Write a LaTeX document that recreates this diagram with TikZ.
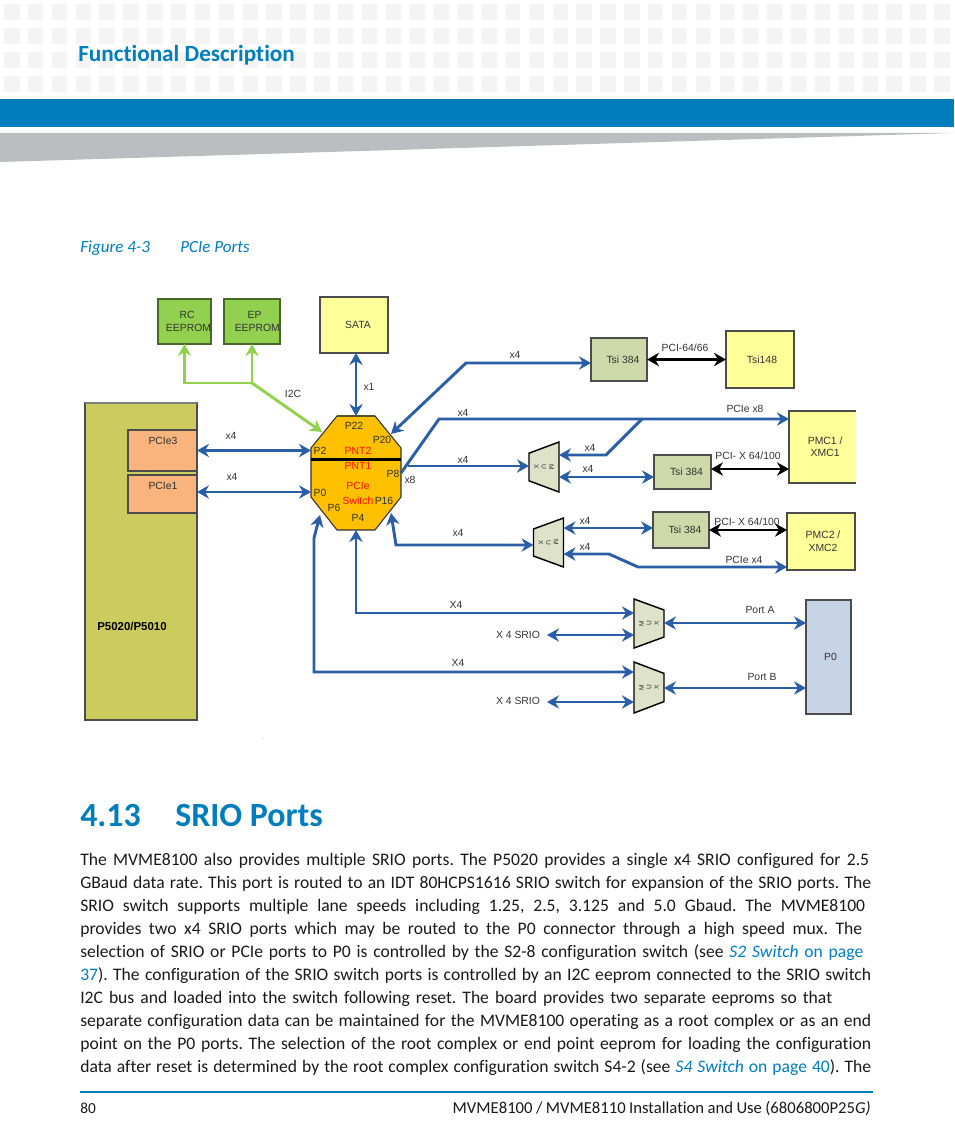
\documentclass[tikz,border=0pt]{standalone}
\usepackage{xcolor}
\usepackage{fontspec}
\setmainfont{Carlito}[RawFeature=-liga]
\newfontfamily\diagfont{Liberation Sans}
\usetikzlibrary{shapes,arrows,arrows.meta,positioning,calc}
\definecolor{artesynblue}{HTML}{007DBD}
\definecolor{headgray}{HTML}{BCBDC0}
\definecolor{gridgray}{HTML}{F4F4F4}
\definecolor{linkblue}{HTML}{2A5FA8}
\definecolor{cpuolive}{HTML}{CCCC5E}
\definecolor{pcieorange}{HTML}{F8B47C}
\definecolor{romgreen}{HTML}{92D050}
\definecolor{chipyellow}{HTML}{FFFF99}
\definecolor{bridgegreen}{HTML}{CDD9A8}
\definecolor{muxgray}{HTML}{DDE2C8}
\definecolor{switchorange}{HTML}{FFC000}
\definecolor{connblue}{HTML}{C6D4E6}
\newcommand{\bodyline}[4]{\node (#1) [bodytext] at (80,#2) {\makebox[\dimexpr#3pt*3/4\relax][s]{#4}};}
\newcommand{\lnk}[1]{\textcolor{artesynblue}{#1}}
\tikzset{pxbox/.style 2 args={minimum width=#1*0.75pt,minimum height=#2*0.75pt}}

\begin{document}
\frenchspacing
\begin{tikzpicture}[x=0.75pt,y=-0.75pt,>={Stealth[length=9pt,width=10pt]}]
    % Define styles
    \tikzstyle{bodytext} = [anchor=base west, inner sep=0pt, font=\fontsize{13.2}{15}\selectfont, text=black!90]
    \tikzstyle{txt} = [inner sep=0pt, font=\diagfont\fontsize{7.8}{9.4}\selectfont, text=black!80, align=center]
    \tikzstyle{chip} = [rectangle, inner sep=0pt, outer sep=0pt, align=center, font=\diagfont\fontsize{7.8}{9.4}\selectfont, text=black!80]
    \tikzstyle{rom} = [chip, draw=romgreen!50!black, fill=romgreen, line width=1pt]
    \tikzstyle{yellowchip} = [chip, draw=black!70, fill=chipyellow, line width=0.8pt]
    \tikzstyle{bridge} = [chip, draw=black!70, fill=bridgegreen, line width=0.8pt]
    \tikzstyle{mux} = [trapezium, trapezium stretches, trapezium left angle=68, trapezium right angle=68, inner sep=4pt, outer sep=0pt, draw=black, fill=muxgray, line width=1.1pt, minimum width=50*0.75pt, minimum height=30*0.75pt]
    \tikzstyle{muxtext} = [inner sep=0pt, align=center, font=\diagfont\fontsize{5}{5.6}\selectfont, text=black!80]
    \tikzstyle{link} = [line width=2.2pt, color=linkblue]
    \tikzstyle{pcilink} = [line width=1.6pt, color=black]
    \tikzstyle{i2clink} = [line width=2.2pt, color=romgreen]
    \tikzstyle{redtxt} = [txt, text=red!90!orange]

    \useasboundingbox (0,0) rectangle (954,1145);

    % Page head
    \foreach \r in {4,28,52,76}
        \foreach \c in {0,...,39}
            \fill[gridgray] ({4+23.85*\c},\r) rectangle ++(15.5,16);
    \fill[artesynblue] (0,99) rectangle (954,127);
    \fill[headgray] (0,133) -- (954,133) -- (0,162) -- cycle;
    \node (pagehead) [anchor=base west, inner sep=0pt, font=\bfseries\fontsize{17.4}{19}\selectfont, text=artesynblue] at (78,62) {Functional Description};
    \node (figno) [anchor=base west, inner sep=0pt, font=\itshape\fontsize{12.8}{15}\selectfont, text=artesynblue] at (80,252) {Figure 4-3};
    \node (figname) [anchor=base west, inner sep=0pt, font=\itshape\fontsize{12.8}{15}\selectfont, text=artesynblue] at (180,252) {PCIe Ports};

    % Processor
    \node (cpu) [chip, pxbox={112}{317}, fill=cpuolive, draw=black!70, line width=0.8pt] at (141,561.5) {};
    \draw[line width=1.5pt, black!50] (cpu.north west) -- (cpu.north east);
    \node (pcieC) [chip, pxbox={69}{41}, fill=pcieorange, draw=black!70, line width=0.8pt] at (162.5,450.5) {};
    \node (pcieA) [chip, pxbox={69}{38}, fill=pcieorange, draw=black!70, line width=0.8pt] at (162.5,494) {};
    \node (pcieCtxt) [txt] at (163,441) {PCIe3};
    \node (pcieAtxt) [txt] at (163,486) {PCIe1};
    \node (cpuName) [txt, font=\diagfont\bfseries\fontsize{8.6}{10}\selectfont, text=black] at (132,626) {P5020/P5010};

    % EEPROMs and SATA
    \node (rcRom) [rom, pxbox={53}{45}] at (184.5,321.5) {\hspace*{4pt}RC\\\hspace*{6pt}EEPROM};
    \node (epRom) [rom, pxbox={54}{45}] at (252,321.5) {\hspace*{4pt}EP\\\hspace*{8pt}EEPROM};
    \node (sata) [yellowchip, pxbox={68}{56}] at (354,325) {\hspace*{6pt}SATA};

    % PCIe switch
    \node (sw) [rectangle, inner sep=0pt, outer sep=0pt, pxbox={90}{114}] at (356,473) {};
    \draw[draw=black!80, fill=switchorange, line width=0.8pt] ($(sw.north west)+(26,0)$) -- ($(sw.north east)+(-26,0)$) -- ($(sw.north east)+(0,32)$) -- ($(sw.south east)+(0,-33)$) -- ($(sw.south east)+(-26,0)$) -- ($(sw.south west)+(26,0)$) -- ($(sw.south west)+(0,-33)$) -- ($(sw.north west)+(0,32)$) -- cycle;
    \coordinate (barY) at (356,459.5);
    \draw[line width=2.7pt, black] (sw.west |- barY) -- (sw.east |- barY);
    \draw[line width=1.5pt, black!50!olive] ($(sw.north)+(-19,0)$) -- ($(sw.north)+(19,0)$);
    \node (p22) [txt] at (354,426) {P22};
    \node (p20) [txt] at (382,440) {P20};
    \node (p2) [txt] at (320,451) {P2};
    \node (p0) [txt] at (320,493) {P0};
    \node (p6) [txt] at (334,508) {P6};
    \node (p4) [txt] at (358,518) {P4};
    \node (p16) [txt] at (384,501) {P16};
    \node (p8) [txt] at (393,474) {P8};
    \node (pnt2) [redtxt] at (358,451) {PNT2};
    \node (pnt1) [redtxt] at (358,466) {PNT1};
    \node (swName) [redtxt] at (358,486) {PCIe};
    \node (swName2) [redtxt] at (358,501) {Switch};

    % Bridges and mezzanine sites
    \node (tsiA) [bridge, pxbox={56}{43}] at (619,359.5) {\hspace*{6pt}Tsi 384};
    \node (tsb) [yellowchip, pxbox={68}{57}] at (760,359.5) {\hspace*{3pt}Tsi148};
    \node (tsiB) [bridge, pxbox={57}{34}] at (682.5,472) {\hspace*{6pt}Tsi 384};
    \node (tsiC) [bridge, pxbox={56}{36}] at (681,530) {\hspace*{6pt}Tsi 384};
    \node (pmcA) [chip, pxbox={67}{72}, fill=chipyellow] at (822.5,447) {\hspace*{4pt}PMC1 /\\\hspace*{4pt}XMC1};
    \draw[black!70, line width=0.8pt] (pmcA.north east) -- (pmcA.north west) -- (pmcA.south west) -- (pmcA.south east);
    \node (pmcB) [yellowchip, pxbox={68}{57}] at (821,541.5) {\hspace*{3pt}PMC2 /\\\hspace*{3pt}XMC2};
    \node (conn) [chip, pxbox={45}{114}, fill=connblue, draw=black!70, line width=0.8pt] at (828.5,657) {\hspace*{3pt}P0};

    % Muxes
    \node (muxA) [mux, rotate=90, minimum width=50*0.75pt] at (544,467) {};
    \node (muxB) [mux, rotate=90, minimum width=49*0.75pt] at (548.5,542.5) {};
    \node (muxC) [mux, rotate=-90, minimum width=49*0.75pt] at (649,623.5) {};
    \node (muxD) [mux, rotate=-90, minimum width=51*0.75pt] at (649,687.5) {};
    \node (muxAtxt) [muxtext, rotate=-90] at (muxA) {M\\U\\X};
    \node (muxBtxt) [muxtext, rotate=-90] at (muxB) {M\\U\\X};
    \node (muxCtxt) [muxtext, rotate=90] at (muxC) {M\\U\\X};
    \node (muxDtxt) [muxtext, rotate=90] at (muxD) {M\\U\\X};

    % Elbows and free ends
    \coordinate (i2cTee) at (252,383);
    \coordinate (i2cEnd) at (322,432);
    \coordinate (portP20) at (391,434);
    \coordinate (bendA) at (466,363);
    \coordinate (bendB) at (439,419);
    \coordinate (tapP8) at (408,466);
    \coordinate (tapMux) at (642,419);
    \coordinate (bendC) at (606,455);
    \coordinate (linkB) at (600,477);
    \coordinate (pciB) at (750,469);
    \coordinate (portP16) at (391,513);
    \coordinate (bendD) at (396,545);
    \coordinate (linkC) at (600,528);
    \coordinate (bendE) at (609,554);
    \coordinate (bendF) at (638,567);
    \coordinate (portP6) at (320,515);
    \coordinate (bendG) at (314,538);
    \coordinate (bendH) at (314,672);
    \coordinate (bendI) at (356,613);
    \coordinate (srioAend) at (547,635);
    \coordinate (srioBend) at (547,702);
    \coordinate (linkPa) at (700,623);
    \coordinate (linkPb) at (700,688);
    \coordinate (linkA) at (250,492);

    % I2C
    \draw[i2clink,->] (i2cTee) -| (rcRom.south);
    \draw[i2clink,->] (i2cTee) -- (epRom.south);
    \draw[i2clink,->] (i2cTee) -- (i2cEnd);

    % PCIe links
    \draw[link,<->] (pcieC.east) -- (sw.west |- pcieC.east);
    \draw[link,<->] (pcieA.east |- linkA) -- (sw.west |- linkA);
    \draw[link,<->] (sata.south -| sw.north) -- (sw.north);
    \draw[link,<->] (portP20) -- (bendA) -- (tsiA.west |- bendA);
    \draw[link,->] (sw.east) -- (bendB) -- (pmcA.west |- bendB);
    \draw[link,->] (tapP8) -- (muxA.north |- tapP8);
    \draw[link,->] (tapMux) -- (bendC) -- (muxA.south |- bendC);
    \draw[link,<->] (muxA.south |- linkB) -- (tsiB.west |- linkB);
    \draw[link,<->] (portP16) -- (bendD) -- (muxB.north |- bendD);
    \draw[link,<->] (muxB.south |- linkC) -- (tsiC.west |- linkC);
    \draw[link,<->] (muxB.south |- bendE) -- (bendE) -- (bendF) -- (pmcB.west |- bendF);
    \draw[pcilink,<->] (tsiA.east) -- (tsb.west);
    \draw[pcilink,<->] (tsiB.east |- pciB) -- (pmcA.west |- pciB);
    \draw[pcilink,<->] (tsiC.east) -- (pmcB.west |- tsiC.east);

    % SRIO links
    \draw[link,<->] (sw.south) -- (bendI) -- (muxC.south |- bendI);
    \draw[link,<->] (portP6) -- (bendG) -- (bendH) -- (muxD.south |- bendH);
    \draw[link,<->] (srioAend) -- (muxC.south |- srioAend);
    \draw[link,<->] (srioBend) -- (muxD.south |- srioBend);
    \draw[link,<->] (muxC.north |- linkPa) -- (conn.west |- linkPa);
    \draw[link,<->] (muxD.north |- linkPb) -- (conn.west |- linkPb);

    % Link labels
    \node (lblI2c) [txt] at (293,394) {I2C};
    \node (lblX1) [txt] at (369,387) {x1};
    \node (lblX8) [txt] at (410,480) {x8};
    \node (lblPc) [txt] at (231,436) {x4};
    \node (lblPa) [txt] at (232,477) {x4};
    \node (lblTsiA) [txt] at (515,355) {x4};
    \node (lblUp) [txt] at (463,413) {x4};
    \node (lblMa) [txt] at (463,460) {x4};
    \node (lblMb) [txt] at (458,533) {x4};
    \node (lblAa) [txt] at (590,448) {x4};
    \node (lblAb) [txt] at (588,469) {x4};
    \node (lblBa) [txt] at (585,521) {x4};
    \node (lblBb) [txt] at (585,547) {x4};
    \node (lblPci) [txt] at (685,348) {PCI-64/66};
    \node (lblX8b) [txt] at (745,409) {PCIe x8};
    \node (lblPxA) [txt] at (748,456) {PCI- X 64/100};
    \node (lblPxB) [txt] at (747,522) {PCI- X 64/100};
    \node (lblX4b) [txt] at (744,560) {PCIe x4};
    \node (lblSa) [txt] at (456,605) {X4};
    \node (lblSb) [txt] at (458,663) {X4};
    \node (lblSrioA) [txt] at (518,635) {X 4 SRIO};
    \node (lblSrioB) [txt] at (518,701) {X 4 SRIO};
    \node (lblPortA) [txt] at (760,610) {Port A};
    \node (lblPortB) [txt] at (762,677) {Port B};
    \node (dot) [txt, font=\diagfont\fontsize{4}{5}\selectfont] at (263,739) {.};

    % Section text
    \node (secno) [anchor=base west, inner sep=0pt, font=\bfseries\fontsize{25.4}{29}\selectfont, text=artesynblue] at (80,826) {4.13};
    \node (sectitle) [anchor=base west, inner sep=0pt, font=\bfseries\fontsize{25.4}{29}\selectfont, text=artesynblue] at (175,826) {SRIO Ports};
    \bodyline{lineA}{865}{789}{The MVME8100 also provides multiple SRIO ports. The P5020 provides a single x4 SRIO configured for 2.5}
    \bodyline{lineB}{888}{791}{GBaud data rate. This port is routed to an IDT 80HCPS1616 SRIO switch for expansion of the SRIO ports. The}
    \bodyline{lineC}{911}{785}{SRIO switch supports multiple lane speeds including 1.25, 2.5, 3.125 and 5.0 Gbaud. The MVME8100}
    \bodyline{lineD}{934}{782}{provides two x4 SRIO ports which may be routed to the P0 connector through a high speed mux. The}
    \bodyline{lineE}{957}{783}{selection of SRIO or PCIe ports to P0 is controlled by the S2-8 configuration switch (see \lnk{\textit{S2 Switch} on page}}
    \bodyline{lineF}{980}{791}{\lnk{37}). The configuration of the SRIO switch ports is controlled by an I2C eeprom connected to the SRIO switch}
    \bodyline{lineG}{1003}{752}{I2C bus and loaded into the switch following reset. The board provides two separate eeproms so that}
    \bodyline{lineH}{1026}{791}{separate configuration data can be maintained for the MVME8100 operating as a root complex or as an end}
    \bodyline{lineI}{1049}{791}{point on the P0 ports. The selection of the root complex or end point eeprom for loading the configuration}
    \bodyline{lineJ}{1072}{791}{data after reset is determined by the root complex configuration switch S4-2 (see \lnk{\textit{S4 Switch} on page 40}). The}

    % Page foot
    \draw[artesynblue, line width=0.9pt] (80,1092) -- (873,1092);
    \node (pageno) [bodytext, font=\fontsize{11.5}{14}\selectfont] at (80,1113) {80};
    \node (footer) [bodytext, anchor=base east, font=\fontsize{12.5}{15}\selectfont] at (871,1113) {\makebox[\dimexpr418pt*3/4\relax][s]{MVME8100 / MVME8110 Installation and Use (6806800P25\textit{G)}}};
\end{tikzpicture}
\end{document}
